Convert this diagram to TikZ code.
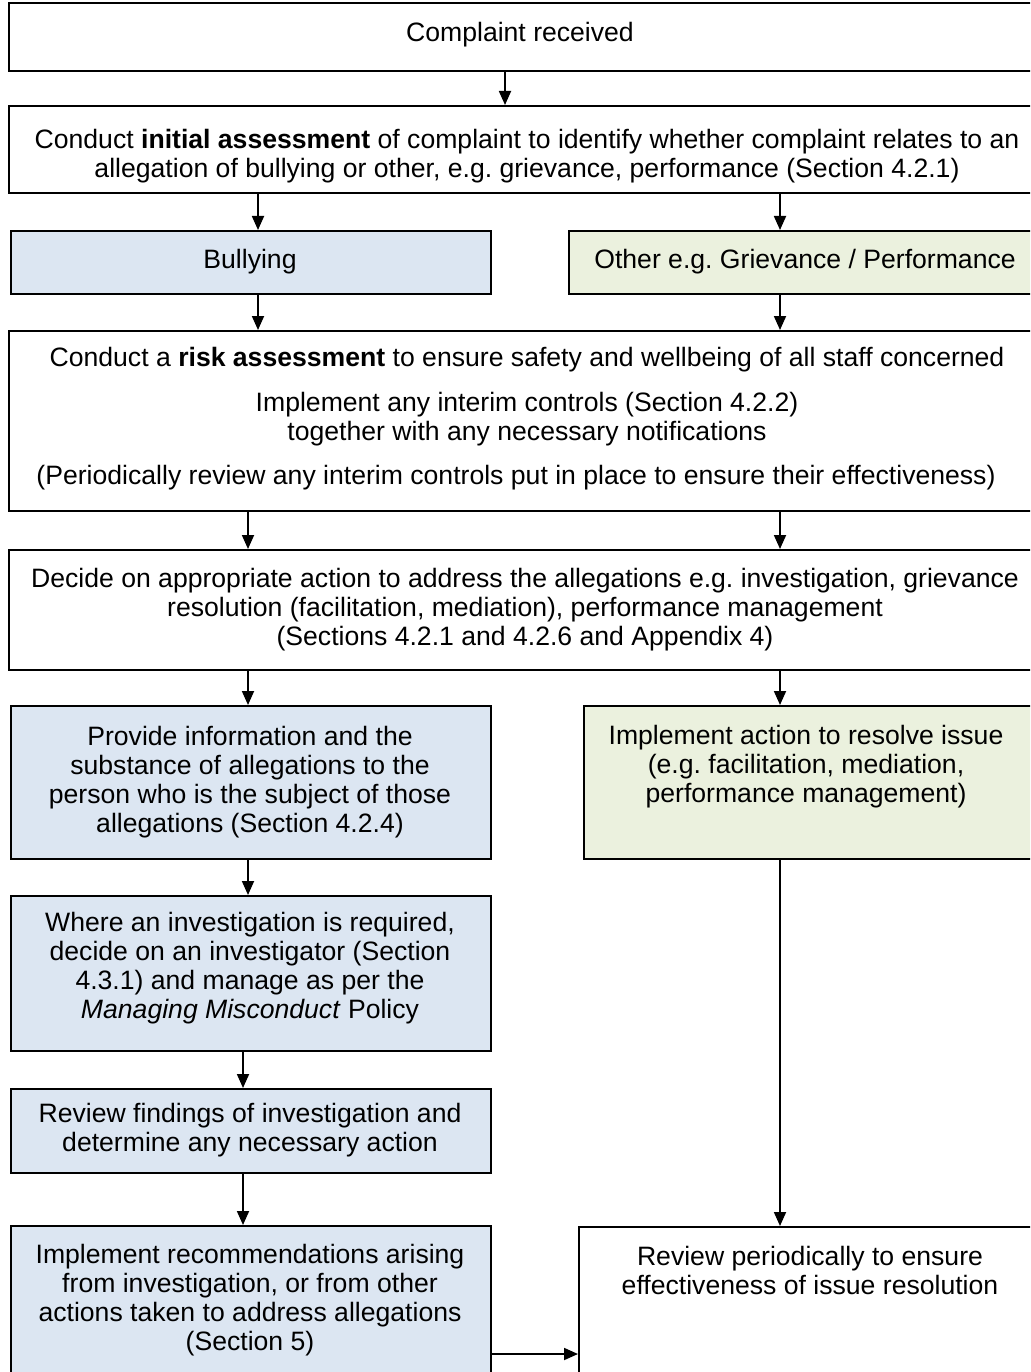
\documentclass[tikz,border=0pt]{standalone}
\usepackage{fontspec}
\setmainfont{Liberation Sans}
\usetikzlibrary{arrows.meta,calc}
\definecolor{bbl}{HTML}{DCE6F2}
\definecolor{bgr}{HTML}{EBF1DE}
\tikzset{
  box/.style={draw=black, line width=1.8pt, rectangle, anchor=north west, inner sep=0pt},
  bluebox/.style={box, fill=bbl},
  greenbox/.style={box, fill=bgr},
  txt/.style={align=center, font=\fontsize{26.6}{29}\selectfont, inner sep=0pt},
  arr/.style={line width=1.8pt, -{Triangle[length=14pt,width=12pt]}},
}
\frenchspacing
\begin{document}
\begin{tikzpicture}[x=1pt,y=-1pt]
\clip (0,0) rectangle (1030,1372);
\fill[white] (0,0) rectangle (1030,1372);
% boxes
\node[box, minimum width=1040pt, minimum height=68pt] (b1) at (8,2) {};
\node[box, minimum width=1040pt, minimum height=87pt] (b2) at (8,105) {};
\node[bluebox, minimum width=480pt, minimum height=63pt] (bul) at (10,230) {};
\node[greenbox, minimum width=470pt, minimum height=63pt] (oth) at (568,230) {};
\node[box, minimum width=1040pt, minimum height=180pt] (risk) at (8,330) {};
\node[box, minimum width=1040pt, minimum height=120pt] (dec) at (8,549) {};
\node[bluebox, minimum width=480pt, minimum height=153pt] (prov) at (10,705) {};
\node[greenbox, minimum width=460pt, minimum height=153pt] (impa) at (583,705) {};
\node[bluebox, minimum width=480pt, minimum height=155pt] (where) at (10,895) {};
\node[bluebox, minimum width=480pt, minimum height=84pt] (revf) at (10,1088) {};
\node[bluebox, minimum width=480pt, minimum height=170pt] (imprec) at (10,1225) {};
\node[box, minimum width=470pt, minimum height=170pt] (revp) at (578,1226) {};
% texts
\node[txt] (t1) at (520,35) {Complaint received};
\node[txt] (t2) at (527,156) {Conduct \textbf{initial assessment} of complaint to identify whether complaint relates to an\\allegation of bullying or other, e.g. grievance, performance (Section 4.2.1)};
\node[txt] (tbul) at (250,262) {Bullying};
\node[txt] (toth) at (805,262) {Other e.g. Grievance / Performance};
\node[txt] (tr1) at (527,360) {Conduct a \textbf{risk assessment} to ensure safety and wellbeing of all staff concerned};
\node[txt] (tr2) at (527,419) {Implement any interim controls (Section 4.2.2)\\together with any necessary notifications};
\node[txt] (tr3) at (516,478) {(Periodically review any interim controls put in place to ensure their effectiveness)};
\node[txt] (tdec) at (525,610) {Decide on appropriate action to address the allegations e.g. investigation, grievance\\resolution (facilitation, mediation), performance management\\(Sections 4.2.1 and 4.2.6 and Appendix 4)};
\node[txt] (tprov) at (250,782) {Provide information and the\\substance of allegations to the\\person who is the subject of those\\allegations (Section 4.2.4)};
\node[txt] (timpa) at (806,767) {Implement action to resolve issue\\(e.g. facilitation, mediation,\\performance management)};
\node[txt] (twhere) at (250,968) {Where an investigation is required,\\decide on an investigator (Section\\4.3.1) and manage as per the\\\textit{Managing Misconduct} Policy};
\node[txt] (trevf) at (250,1130) {Review findings of investigation and\\determine any necessary action};
\node[txt] (timprec) at (250,1300) {Implement recommendations arising\\from investigation, or from other\\actions taken to address allegations\\(Section 5)};
\node[txt] (trevp) at (810,1270) {Review periodically to ensure\\effectiveness of issue resolution};
% arrow x positions
\coordinate (xa) at (505,0);
\coordinate (xl) at (258,0);
\coordinate (xr) at (780,0);
\coordinate (xl2) at (248,0);
\coordinate (xl3) at (243,0);
\coordinate (yh) at (0,1354);
% connectors
\draw[arr] (b1.south -| xa) -- (b2.north -| xa);
\draw[arr] (b2.south -| xl) -- (bul.north -| xl);
\draw[arr] (b2.south -| xr) -- (oth.north -| xr);
\draw[arr] (bul.south -| xl) -- (risk.north -| xl);
\draw[arr] (oth.south -| xr) -- (risk.north -| xr);
\draw[arr] (risk.south -| xl2) -- (dec.north -| xl2);
\draw[arr] (risk.south -| xr) -- (dec.north -| xr);
\draw[arr] (dec.south -| xl2) -- (prov.north -| xl2);
\draw[arr] (dec.south -| xr) -- (impa.north -| xr);
\draw[arr] (prov.south -| xl2) -- (where.north -| xl2);
\draw[arr] (impa.south -| xr) -- (revp.north -| xr);
\draw[arr] (where.south -| xl3) -- (revf.north -| xl3);
\draw[arr] (revf.south -| xl3) -- (imprec.north -| xl3);
\draw[arr] (imprec.east |- yh) -- (revp.west |- yh);
\end{tikzpicture}
\end{document}
